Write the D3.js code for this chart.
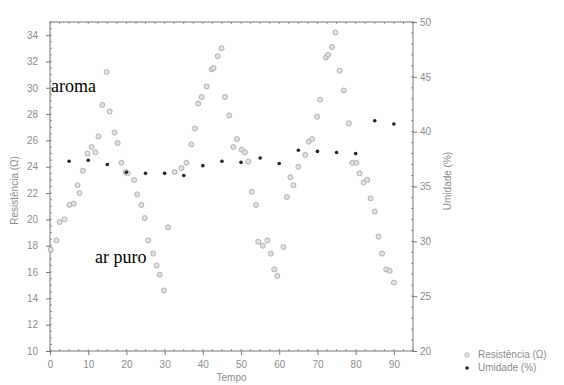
<!DOCTYPE html>
<html>
<head>
<meta charset="utf-8">
<script src="https://cdn.jsdelivr.net/npm/d3@7"></script>
<style>
  body { margin: 0; background: #fff; }
  svg { display: block; }
  text { font-family: "Liberation Sans", Arial, sans-serif; }
</style>
</head>
<body>
<div id="chart"></div>
<script>
// Resistência (Ω) readings: time and value
const resTime = [0.2, 1.7, 2.5, 3.8, 5.1, 6.2, 7.2, 7.7, 8.6, 9.8, 10.9, 11.9, 12.7, 13.7, 14.8, 15.6, 16.9, 17.7, 18.7, 19.8,
  20.3, 22.0, 22.8, 23.9, 24.8, 25.7, 27.0, 27.9, 28.7, 29.8, 30.9, 32.6, 34.4, 35.7, 37.0, 37.9, 38.8, 39.7, 41.0, 42.3,
  42.8, 43.9, 44.9, 45.8, 46.9, 48.0, 48.9, 50.2, 51.0, 51.9, 52.8, 53.9, 54.5, 55.7, 56.9, 57.8, 58.7, 59.5, 61.1, 62.0,
  62.9, 63.7, 65.0, 66.8, 67.7, 68.6, 69.9, 70.7, 72.2, 72.8, 73.8, 74.7, 75.8, 76.9, 78.2, 79.1, 80.2, 81.0, 82.1, 83.0,
  83.9, 85.0, 86.0, 86.9, 88.0, 88.9, 90.0];
const resValue = [17.7, 18.4, 19.8, 20.0, 21.1, 21.2, 22.6, 22.0, 23.7, 25.0, 25.5, 25.1, 26.3, 28.7, 31.2, 28.2, 26.6, 25.8, 24.3, 23.6,
  23.5, 23.0, 21.9, 21.1, 20.1, 18.4, 17.4, 16.5, 15.8, 14.6, 19.4, 23.6, 23.9, 24.3, 25.7, 26.9, 28.8, 29.3, 30.1, 31.4,
  31.5, 32.4, 33.0, 29.3, 27.9, 25.5, 26.1, 25.3, 25.1, 24.4, 22.1, 21.1, 18.3, 18.0, 18.4, 17.4, 16.2, 15.7, 17.9, 21.7,
  23.2, 22.6, 24.0, 24.9, 25.9, 26.1, 27.8, 29.1, 32.3, 32.5, 33.1, 34.2, 31.3, 29.8, 27.3, 24.3, 24.3, 23.5, 22.8, 23.0,
  21.6, 20.6, 18.7, 17.4, 16.2, 16.1, 15.2];

// Umidade (%) readings
const humTime = [5, 10, 15, 20, 25, 30, 35, 40, 45, 50, 55, 60, 65, 70, 75, 80, 85, 90];
const humValue = [37.3, 37.4, 37.0, 36.3, 36.2, 36.2, 36.0, 36.9, 37.3, 37.2, 37.6, 37.1, 38.3, 38.2, 38.1, 38.0, 41.0, 40.7];

const xTicks = [0, 10, 20, 30, 40, 50, 60, 70, 80, 90];
const leftTicks = [10, 12, 14, 16, 18, 20, 22, 24, 26, 28, 30, 32, 34];
const rightTicks = [20, 25, 30, 35, 40, 45, 50];

const legendLabels = ['Resistência (Ω)', 'Umidade (%)'];

const width = 564, height = 385;
const margin = { top: 22, right: 151, bottom: 34, left: 50 };
const innerW = width - margin.left - margin.right;
const innerH = height - margin.top - margin.bottom;

const axisColor = '#777';
const labelColor = '#8c8c8c';
const resFill = '#e2e2e2', resStroke = '#a8a8a8';

const svg = d3.select('#chart').append('svg')
  .attr('width', width)
  .attr('height', height);

const g = svg.append('g')
  .attr('transform', `translate(${margin.left},${margin.top})`);

const x = d3.scaleLinear().domain([0, 95]).range([0, innerW]);
const yL = d3.scaleLinear().domain([10, 35]).range([innerH, 0]);
const yR = d3.scaleLinear().domain([20, 50]).range([innerH, 0]);

// frame
g.append('rect')
  .attr('width', innerW).attr('height', innerH)
  .attr('fill', 'none').attr('stroke', axisColor).attr('stroke-width', 1);

// minor ticks (inside frame)
const minor = g.append('g').attr('stroke', axisColor).attr('stroke-width', 0.8);
d3.range(0, 95.01, 2.5).forEach(v => {
  minor.append('line').attr('x1', x(v)).attr('x2', x(v)).attr('y1', innerH).attr('y2', innerH - 2);
  minor.append('line').attr('x1', x(v)).attr('x2', x(v)).attr('y1', 0).attr('y2', 2);
});
d3.range(10, 35.01, 0.5).forEach(v => {
  minor.append('line').attr('x1', 0).attr('x2', 2).attr('y1', yL(v)).attr('y2', yL(v));
});
d3.range(20, 50.01, 1).forEach(v => {
  minor.append('line').attr('x1', innerW).attr('x2', innerW - 2).attr('y1', yR(v)).attr('y2', yR(v));
});

function styleAxis(sel) {
  sel.select('.domain').remove();
  sel.selectAll('.tick line').attr('stroke', axisColor);
  sel.selectAll('.tick text').attr('fill', labelColor).style('font-size', '10px');
}

g.append('g')
  .attr('transform', `translate(0,${innerH})`)
  .call(d3.axisBottom(x).tickValues(xTicks).tickSize(4).tickPadding(6))
  .call(styleAxis);

g.append('g')
  .call(d3.axisLeft(yL).tickValues(leftTicks).tickSize(4).tickPadding(8))
  .call(styleAxis);

g.append('g')
  .attr('transform', `translate(${innerW},0)`)
  .call(d3.axisRight(yR).tickValues(rightTicks).tickSize(4).tickPadding(3))
  .call(styleAxis);

// axis titles
svg.append('text')
  .attr('transform', `translate(15,${margin.top + yL(22.2)}) rotate(-90)`)
  .attr('text-anchor', 'middle').attr('dominant-baseline', 'middle')
  .attr('fill', labelColor).style('font-size', '10px')
  .text('Resistência (Ω)');

svg.append('text')
  .attr('transform', `translate(${margin.left + innerW + 35},${margin.top + yR(35.5)}) rotate(-90)`)
  .attr('text-anchor', 'middle').attr('dominant-baseline', 'middle')
  .attr('fill', labelColor).style('font-size', '10px')
  .text('Umidade (%)');

svg.append('text')
  .attr('x', margin.left + innerW / 2).attr('y', height - 4)
  .attr('text-anchor', 'middle')
  .attr('fill', labelColor).style('font-size', '10px')
  .text('Tempo');

// Resistência points
const resData = resTime.map((t, i) => ({ t: t, v: resValue[i] }));
g.selectAll('.res')
  .data(resData)
  .enter().append('circle')
  .attr('class', 'res')
  .attr('cx', d => x(d.t))
  .attr('cy', d => yL(d.v))
  .attr('r', 2.5)
  .attr('fill', resFill)
  .attr('stroke', resStroke)
  .attr('stroke-width', 0.9);

// Umidade points
const humData = humTime.map((t, i) => ({ t: t, v: humValue[i] }));
g.selectAll('.hum')
  .data(humData)
  .enter().append('circle')
  .attr('class', 'hum')
  .attr('cx', d => x(d.t))
  .attr('cy', d => yR(d.v))
  .attr('r', 1.8)
  .attr('fill', '#222');

// annotations
svg.append('text')
  .attr('x', 51).attr('y', 92)
  .style('font-family', '"Liberation Serif", "Times New Roman", serif')
  .style('font-size', '18px').attr('fill', '#000')
  .text('aroma');

svg.append('text')
  .attr('x', 95).attr('y', 263)
  .style('font-family', '"Liberation Serif", "Times New Roman", serif')
  .style('font-size', '18px').attr('fill', '#000')
  .text('ar puro');

// legend
const legend = svg.append('g').attr('transform', 'translate(467,355)');
legendLabels.forEach((lbl, i) => {
  const row = legend.append('g').attr('transform', `translate(0,${i * 13})`);
  if (i === 0) {
    row.append('circle').attr('r', 2.2).attr('fill', resFill).attr('stroke', resStroke).attr('stroke-width', 0.8);
  } else {
    row.append('circle').attr('r', 1.8).attr('fill', '#222');
  }
  row.append('text')
    .attr('x', 11).attr('dominant-baseline', 'middle')
    .attr('fill', labelColor).style('font-size', '10px')
    .text(lbl);
});
</script>
</body>
</html>
